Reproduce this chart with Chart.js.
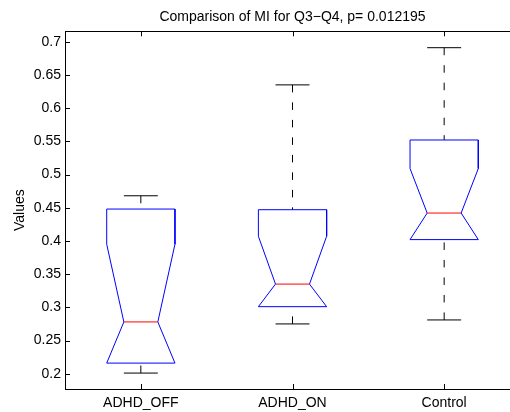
<!DOCTYPE html>
<html>
<head>
<meta charset="utf-8">
<script src="https://cdn.jsdelivr.net/npm/chart.js@4.4.1/dist/chart.umd.min.js"></script>
<style>
  html, body { margin: 0; padding: 0; overflow: hidden; background: #fff; }
  #wrap { width: 510px; height: 412px; overflow: hidden; }
</style>
</head>
<body>
<div id="wrap"><canvas id="boxChart" width="520" height="412"></canvas></div>
<script>
// 그룹별 박스플롯 값
const categories = ['ADHD_OFF', 'ADHD_ON', 'Control'];
const upperWhisker = [0.468, 0.635, 0.691];
const q3 = [0.448, 0.447, 0.552];
const notchHigh = [0.395, 0.407, 0.509];
const median = [0.278, 0.335, 0.442];
const q1 = [0.216, 0.301, 0.402];
const lowerWhisker = [0.201, 0.275, 0.281];
const yTicks = [0.2, 0.25, 0.3, 0.35, 0.4, 0.45, 0.5, 0.55, 0.6, 0.65, 0.7];

const FONT = "'Liberation Sans', Arial, Helvetica, sans-serif";
const halfW = 0.225;
const halfN = 0.112;

const datasets = [];
categories.forEach((name, i) => {
  const c = i + 1;
  const nl = Math.max(2 * median[i] - notchHigh[i], q1[i]);
  datasets.push({
    label: name + ' box',
    data: [
      { x: c - halfW, y: q3[i] }, { x: c + halfW, y: q3[i] },
      { x: c + halfW, y: notchHigh[i] }, { x: c + halfN, y: median[i] },
      { x: c + halfW, y: nl }, { x: c + halfW, y: q1[i] },
      { x: c - halfW, y: q1[i] }, { x: c - halfW, y: nl },
      { x: c - halfN, y: median[i] }, { x: c - halfW, y: notchHigh[i] },
      { x: c - halfW, y: q3[i] },
    ],
    borderColor: '#0000ff',
    order: 1,
  });
  datasets.push({
    label: name + ' median',
    data: [{ x: c - halfN, y: median[i] }, { x: c + halfN, y: median[i] }],
    borderColor: '#ff0000',
    order: 0,
  });
  // 수염은 캡에서 박스 쪽으로 그림
  datasets.push({
    label: name + ' upper whisker',
    data: [{ x: c, y: upperWhisker[i] }, { x: c, y: q3[i] }],
    borderColor: '#000',
    borderDash: [7.5, 10],
    order: 2,
  });
  datasets.push({
    label: name + ' lower whisker',
    data: [{ x: c, y: lowerWhisker[i] }, { x: c, y: q1[i] }],
    borderColor: '#000',
    borderDash: [7.5, 10],
    order: 2,
  });
  datasets.push({
    label: name + ' caps',
    data: [
      { x: c - halfN, y: upperWhisker[i] }, { x: c + halfN, y: upperWhisker[i] },
      { x: c, y: null },
      { x: c - halfN, y: lowerWhisker[i] }, { x: c + halfN, y: lowerWhisker[i] },
    ],
    borderColor: '#000',
    order: 2,
  });
});

// 안쪽 눈금과 축 테두리
const innerTicks = {
  id: 'innerTicks',
  afterDraw(chart) {
    const { ctx, chartArea: a, scales } = chart;
    ctx.save();
    ctx.strokeStyle = '#000';
    ctx.lineWidth = 1;
    ctx.beginPath();
    scales.y.ticks.forEach((t) => {
      const y = Math.round(scales.y.getPixelForValue(t.value)) + 0.5;
      ctx.moveTo(a.left, y); ctx.lineTo(a.left + 5, y);
      ctx.moveTo(a.right, y); ctx.lineTo(a.right - 5, y);
    });
    scales.x.ticks.forEach((t) => {
      const x = Math.round(scales.x.getPixelForValue(t.value)) + 0.5;
      ctx.moveTo(x, a.bottom); ctx.lineTo(x, a.bottom - 5);
      ctx.moveTo(x, a.top); ctx.lineTo(x, a.top + 5);
    });
    ctx.stroke();
    ctx.strokeRect(Math.round(a.left) + 0.5, Math.round(a.top) + 0.5,
      Math.round(a.right - a.left), Math.round(a.bottom - a.top));
    ctx.restore();
  },
};

new Chart(document.getElementById('boxChart').getContext('2d'), {
  type: 'scatter',
  data: { datasets },
  options: {
    responsive: false,
    animation: false,
    events: [],
    layout: { padding: 0 },
    elements: {
      point: { radius: 0 },
      line: { borderWidth: 1, tension: 0 },
    },
    datasets: { scatter: { showLine: true, spanGaps: false } },
    plugins: {
      legend: { display: false },
      tooltip: { enabled: false },
      title: {
        display: true,
        fullSize: false,
        text: 'Comparison of MI for Q3\u2212Q4, p= 0.012195',
        color: '#000',
        font: { family: FONT, size: 14, weight: 'normal', lineHeight: 1.2 },
        padding: { top: 8.5, bottom: 6 },
      },
    },
    scales: {
      x: {
        type: 'linear',
        min: 0.5,
        max: 3.5,
        afterFit: (s) => { s.height = 23; },
        afterBuildTicks: (s) => { s.ticks = categories.map((_, i) => ({ value: i + 1 })); },
        grid: { display: false, drawTicks: false },
        border: { display: false },
        ticks: {
          color: '#000',
          padding: 6,
          font: { family: FONT, size: 14 },
          callback: (v) => categories[v - 1],
        },
      },
      y: {
        min: 0.177,
        max: 0.7157,
        afterFit: (s) => { s.width = 65; },
        afterBuildTicks: (s) => { s.ticks = yTicks.map((v) => ({ value: v })); },
        grid: { display: false, drawTicks: false },
        border: { display: false },
        title: {
          display: true,
          text: 'Values',
          color: '#000',
          font: { family: FONT, size: 14 },
          padding: { top: 12, bottom: 0 },
        },
        ticks: {
          color: '#000',
          padding: 4,
          font: { family: FONT, size: 14 },
          callback: (v) => String(v),
        },
      },
    },
  },
  plugins: [innerTicks],
});
</script>
</body>
</html>
